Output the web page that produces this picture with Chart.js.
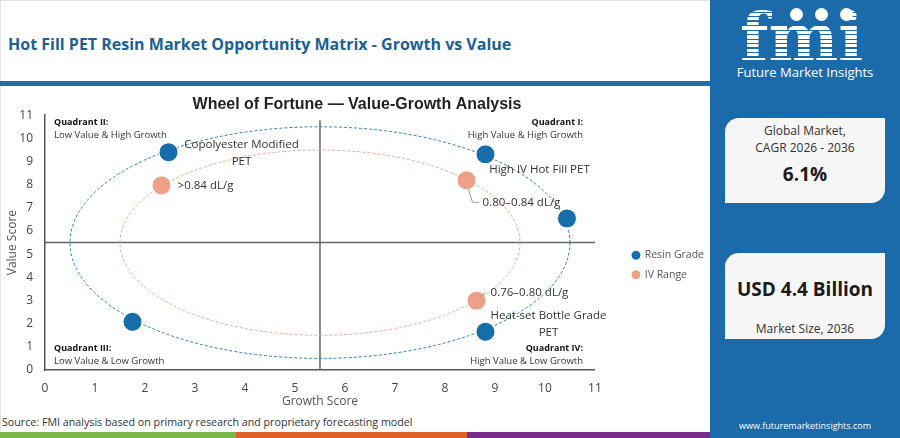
<!DOCTYPE html>
<html>
<head>
<meta charset="utf-8">
<script src="https://cdn.jsdelivr.net/npm/chart.js@4.4.0/dist/chart.umd.min.js"></script>
<style>
  body { margin: 0; width: 900px; height: 438px; overflow: hidden; background: #fff; position: relative; font-family: 'Open Sans', sans-serif; }
  .frame { position: absolute; left: 0; top: 0; width: 899px; height: 437px; border: 1px solid #e3e3e3; border-right: none; box-sizing: border-box; }
  .title { position: absolute; left: 8px; top: 33px; font-size: 16px; font-weight: 700; color: #1a5f96; white-space: nowrap; }
  .rule { position: absolute; left: 0; top: 81px; width: 710px; height: 5px; background: #1e6fae; }
  .chart-box { position: absolute; left: 0; top: 88px; width: 714px; height: 321px; }
  .source { position: absolute; left: 2px; top: 415px; font-size: 10.7px; color: #333; white-space: nowrap; }
  .strip { position: absolute; top: 432px; height: 6px; }
  .side { position: absolute; left: 710px; top: 0; width: 190px; height: 438px; background: #1b6aa9; color: #fff; }
  .logo { position: absolute; left: 30px; top: 4px; font-family: 'DejaVu Serif', serif; font-weight: 700; font-size: 66px; line-height: 66px;
          background: repeating-linear-gradient(180deg, #fff 0 3px, #1b6aa9 3px 4.5px); -webkit-background-clip: text; background-clip: text; color: transparent; }
  .dot { position: absolute; top: 8px; width: 13px; height: 13px; border-radius: 50%; background: #fff; }
  .brand { position: absolute; left: 0; width: 190px; top: 63px; text-align: center; font-size: 13px; }
  .card { position: absolute; left: 15px; width: 160px; background: #f6f6f6; color: #333; text-align: center; border-radius: 14px 0 14px 0; }
  .card .small { font-size: 12px; line-height: 17px; }
  .card .big { font-size: 19px; font-weight: 700; color: #1a1a1a; }
  .url { position: absolute; left: 0; width: 190px; top: 419px; text-align: center; font-size: 9px; }
</style>
</head>
<body>
<div class="frame"></div>
<div class="title">Hot Fill PET Resin Market Opportunity Matrix - Growth vs Value</div>
<div class="rule"></div>
<div class="chart-box"><canvas id="matrix"></canvas></div>
<div class="source">Source: FMI analysis based on primary research and proprietary forecasting model</div>
<div class="strip" style="left:0;width:236px;background:#7ab648"></div>
<div class="strip" style="left:236px;width:231px;background:#e0622a"></div>
<div class="strip" style="left:467px;width:243px;background:#7b2d8e"></div>

<div class="side">
  <div class="logo">fmi</div>
  <div class="dot" style="left:80px"></div>
  <div class="dot" style="left:105px"></div>
  <div class="dot" style="left:130px"></div>
  <div class="brand">Future Market Insights</div>
  <div class="card" style="top:118px;height:85px">
    <div class="small" style="margin-top:4px">Global Market,<br>CAGR 2026 - 2036</div>
    <div class="big" style="margin-top:5px">6.1%</div>
  </div>
  <div class="card" style="top:253px;height:86px">
    <div class="big" style="margin-top:23px">USD 4.4 Billion</div>
    <div class="small" style="margin-top:18px">Market Size, 2036</div>
  </div>
  <div class="url">www.futuremarketinsights.com</div>
</div>

<script>
// values
const resinNames = ['Copolyester Modified PET', 'High IV Hot Fill PET', null, 'Heat-set Bottle Grade PET', null];
const resinGrowth = [2.47, 8.81, 10.44, 8.81, 1.75];
const resinValue = [9.40, 9.31, 6.54, 1.65, 2.08];

const ivNames = ['>0.84 dL/g', '0.80\u20130.84 dL/g', '0.76\u20130.80 dL/g'];
const ivGrowth = [2.33, 8.43, 8.63];
const ivValue = [7.97, 8.19, 2.99];

const axisTicks = [0, 1, 2, 3, 4, 5, 6, 7, 8, 9, 10, 11];
const quadrantSplit = 5.5;
const ringRadii = [5, 4];

// label placement (pixels from the point), split lines and leader lines
const labelStyle = {
  'Copolyester Modified PET': { lines: ['Copolyester Modified', 'PET'], dx: 73, dy: -8 },
  'High IV Hot Fill PET': { lines: ['High IV Hot Fill PET'], dx: 54, dy: 15 },
  'Heat-set Bottle Grade PET': { lines: ['Heat-set Bottle Grade', 'PET'], dx: 63, dy: -16 },
  '>0.84 dL/g': { lines: ['>0.84 dL/g'], dx: 44, dy: 0 },
  '0.80\u20130.84 dL/g': { lines: ['0.80\u20130.84 dL/g'], dx: 55, dy: 22, leader: [[2, 9], [6, 22], [13, 22]] },
  '0.76\u20130.80 dL/g': { lines: ['0.76\u20130.80 dL/g'], dx: 53, dy: -8, leader: [[3, -3], [9, -8]] }
};

const toPoints = (xs, ys) => xs.map((v, i) => ({ x: v, y: ys[i] }));

const ringsAndQuadrants = {
  id: 'ringsAndQuadrants',
  beforeDatasetsDraw(chart) {
    const { ctx, chartArea, scales: { x, y } } = chart;
    const cx = x.getPixelForValue(quadrantSplit);
    const cy = y.getPixelForValue(quadrantSplit);
    ctx.save();
    ctx.strokeStyle = '#666';
    ctx.lineWidth = 1.5;
    ctx.beginPath();
    ctx.moveTo(cx, chartArea.top + 5);
    ctx.lineTo(cx, chartArea.bottom);
    ctx.moveTo(chartArea.left, cy);
    ctx.lineTo(chartArea.right, cy);
    ctx.stroke();

    const ringColors = ['#2b7bbb', '#eba58e'];
    ringRadii.forEach((r, i) => {
      const rx = x.getPixelForValue(quadrantSplit + r) - cx;
      const ry = cy - y.getPixelForValue(quadrantSplit + r);
      ctx.setLineDash([3, 2]);
      ctx.strokeStyle = ringColors[i];
      ctx.lineWidth = 1;
      ctx.beginPath();
      ctx.ellipse(cx, cy, rx, ry, 0, 0, Math.PI * 2);
      ctx.stroke();
    });
    ctx.setLineDash([]);

    // quadrant captions
    const l = chartArea.left + 9, r = chartArea.right - 12;
    const t = chartArea.top + 7, b = chartArea.bottom - 22;
    const caption = (head, sub, px, py, align) => {
      ctx.textAlign = align;
      ctx.textBaseline = 'middle';
      ctx.fillStyle = '#111';
      ctx.font = "bold 9px 'Open Sans', sans-serif";
      ctx.fillText(head, px, py);
      ctx.fillStyle = '#333';
      ctx.font = "9.5px 'Open Sans', sans-serif";
      ctx.fillText(sub, px, py + 13);
    };
    caption('Quadrant II:', 'Low Value & High Growth', l, t, 'left');
    caption('Quadrant I:', 'High Value & High Growth', r, t, 'right');
    caption('Quadrant III:', 'Low Value & Low Growth', l, b, 'left');
    caption('Quadrant IV:', 'High Value & Low Growth', r, b, 'right');
    ctx.restore();
  }
};

const pointLabels = {
  id: 'pointLabels',
  afterDatasetsDraw(chart) {
    const { ctx } = chart;
    ctx.save();
    chart.data.datasets.forEach((ds, di) => {
      const meta = chart.getDatasetMeta(di);
      ds.names.forEach((name, i) => {
        if (!name) return;
        const st = labelStyle[name];
        const pt = meta.data[i];
        if (st.leader) {
          ctx.strokeStyle = '#999';
          ctx.lineWidth = 1;
          ctx.beginPath();
          st.leader.forEach(([lx, ly], k) => {
            if (k === 0) ctx.moveTo(pt.x + lx, pt.y + ly);
            else ctx.lineTo(pt.x + lx, pt.y + ly);
          });
          ctx.stroke();
        }
        ctx.fillStyle = '#333';
        ctx.font = "11.5px 'Open Sans', sans-serif";
        ctx.textAlign = 'center';
        ctx.textBaseline = 'middle';
        st.lines.forEach((line, k) => ctx.fillText(line, pt.x + st.dx, pt.y + st.dy + k * 17));
      });
    });
    ctx.restore();
  }
};

Chart.defaults.font.family = "'Open Sans', sans-serif";

new Chart(document.getElementById('matrix'), {
  type: 'scatter',
  data: {
    datasets: [{
      label: 'Resin Grade',
      names: resinNames,
      data: toPoints(resinGrowth, resinValue),
      backgroundColor: '#156eaa',
      borderColor: '#ffffff',
      borderWidth: 1,
      pointRadius: 9.5,
      pointHoverRadius: 9.5
    }, {
      label: 'IV Range',
      names: ivNames,
      data: toPoints(ivGrowth, ivValue),
      backgroundColor: '#eba087',
      borderColor: '#ffffff',
      borderWidth: 1,
      pointRadius: 9.5,
      pointHoverRadius: 9.5
    }]
  },
  options: {
    responsive: true,
    maintainAspectRatio: false,
    animation: false,
    layout: { padding: 0 },
    scales: {
      x: {
        type: 'linear', min: 0, max: 11,
        afterBuildTicks: (axis) => { axis.ticks = axisTicks.map(v => ({ value: v })); },
        afterFit: (axis) => { axis.height = 39; },
        ticks: { color: '#444', font: { size: 12 }, padding: 11 },
        grid: { display: false, drawTicks: false },
        border: { display: true, color: '#555', width: 1.5 },
        title: { display: true, text: 'Growth Score', color: '#555', font: { size: 12 }, padding: 0 }
      },
      y: {
        type: 'linear', min: 0, max: 11,
        afterBuildTicks: (axis) => { axis.ticks = axisTicks.map(v => ({ value: v })); },
        afterFit: (axis) => { axis.width = 45; },
        ticks: { color: '#444', font: { size: 12 }, padding: 12 },
        grid: { display: false, drawTicks: false },
        border: { display: true, color: '#555', width: 1.5 },
        title: { display: true, text: 'Value Score', color: '#555', font: { size: 12 }, padding: { top: 5, bottom: 0 } }
      },
      // empty right-hand scale: only keeps the legend clear of the plot
      gap: {
        type: 'linear', position: 'right', display: true,
        afterFit: (axis) => { axis.width = 28.5; },
        ticks: { display: false },
        grid: { display: false, drawTicks: false },
        border: { display: false }
      }
    },
    plugins: {
      title: {
        display: true,
        text: 'Wheel of Fortune \u2014 Value-Growth Analysis',
        color: '#222',
        font: { family: "'Liberation Sans', Arial, sans-serif", size: 16, weight: 'bold' },
        padding: { top: 7, bottom: 1 }
      },
      legend: {
        position: 'right',
        title: { display: true, text: ' ', font: { size: 12 }, padding: { top: 18.6, bottom: 0 } },
        labels: { usePointStyle: true, pointStyle: 'circle', boxWidth: 7, boxHeight: 7, color: '#555', font: { size: 10.5 }, padding: 9 }
      },
      tooltip: { enabled: false }
    }
  },
  plugins: [ringsAndQuadrants, pointLabels]
});
</script>
</body>
</html>
